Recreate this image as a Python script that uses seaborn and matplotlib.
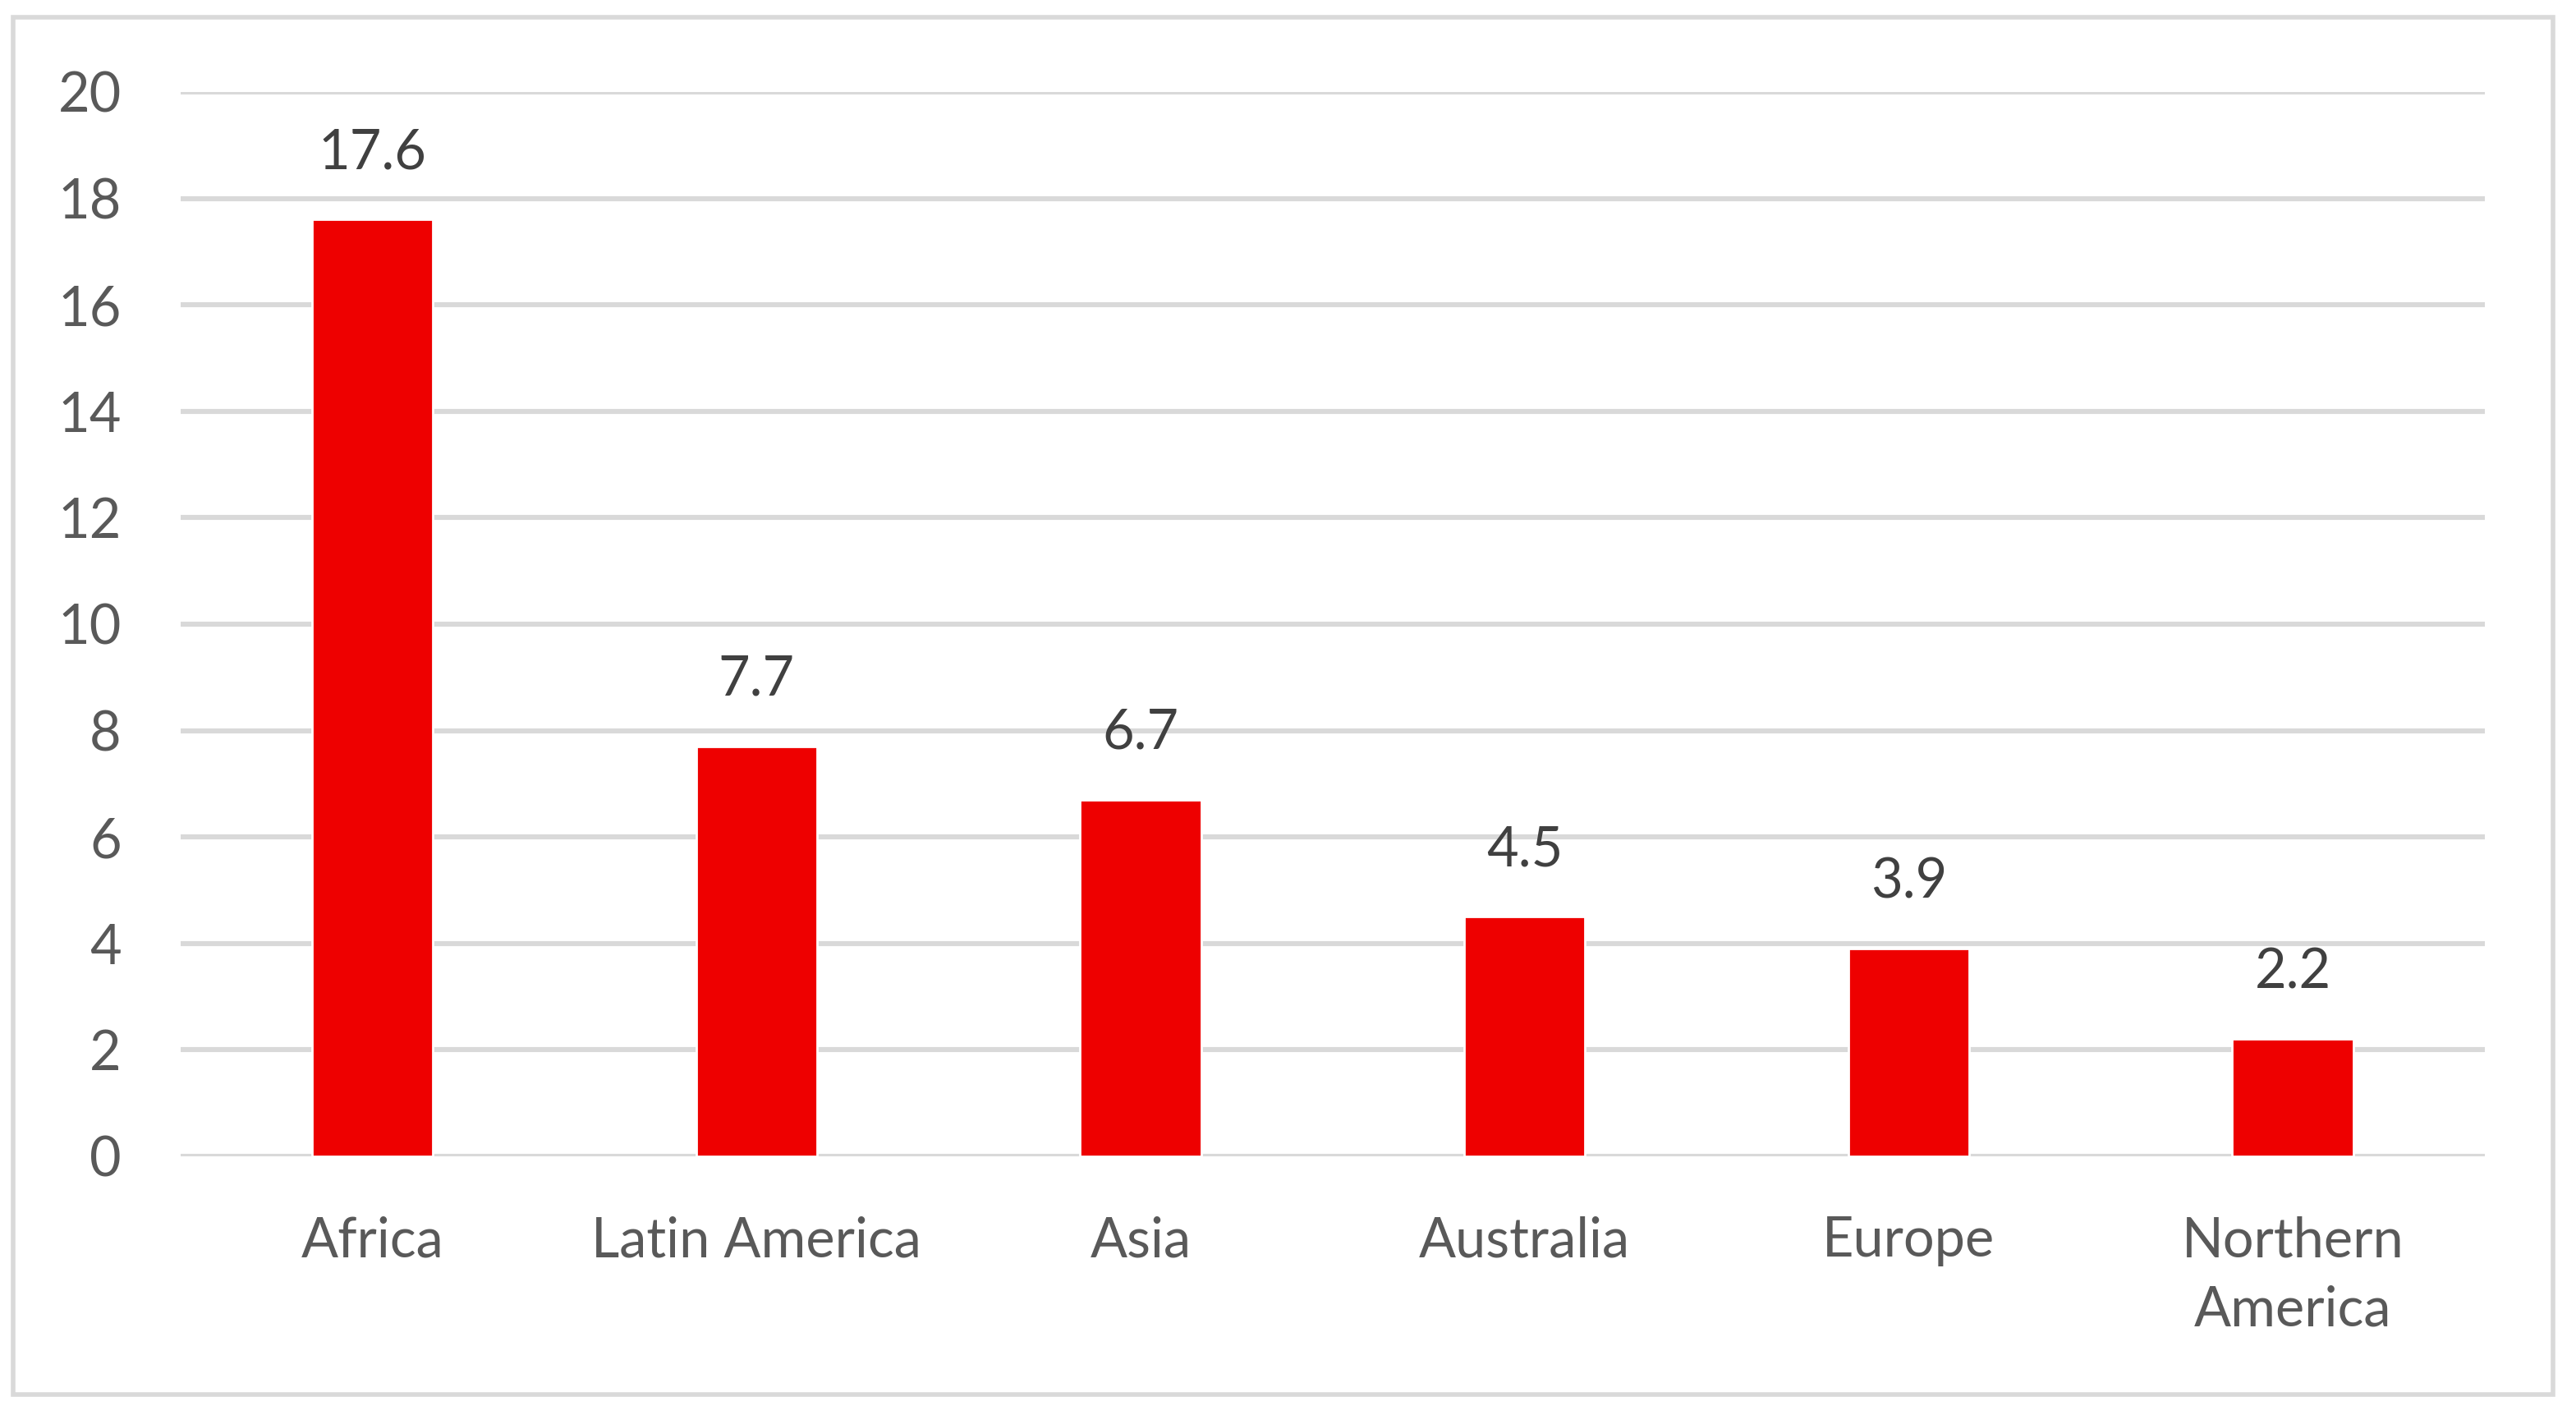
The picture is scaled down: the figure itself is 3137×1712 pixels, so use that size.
import matplotlib
matplotlib.use("Agg")
import matplotlib.pyplot as plt
from matplotlib.patches import Rectangle
import pandas as pd
import seaborn as sns

regions = ["Africa", "Latin America", "Asia", "Australia", "Europe", "Northern\nAmerica"]
values = [17.6, 7.7, 6.7, 4.5, 3.9, 2.2]
y_ticks = [0, 2, 4, 6, 8, 10, 12, 14, 16, 18, 20]

sns.set_theme(style="white")
plt.rcParams["font.family"] = ["Lato", "DejaVu Sans"]

df = pd.DataFrame({"region": regions, "value": values})

fig = plt.figure(figsize=(15.685, 8.56), dpi=200)
ax = fig.add_axes([0.0701, 0.1776, 0.8945, 0.757])

sns.barplot(data=df, x="region", y="value", color="#ee0000", width=0.315,
            saturation=1, ax=ax)

ax.set_ylim(0, 20)
ax.set_yticks(y_ticks)
ax.set_xlim(-0.5, len(regions) - 0.5)
ax.yaxis.grid(True, color="#d9d9d9", linewidth=2.2)
ax.set_axisbelow(True)
for s in ax.spines.values():
    s.set_visible(False)
ax.set_xlabel("")
ax.set_ylabel("")
ax.tick_params(axis="y", length=0, pad=26, labelsize=24, labelcolor="#595959")
ax.tick_params(axis="x", length=0, pad=26, labelsize=24, labelcolor="#595959")
for lbl in ax.get_xticklabels():
    lbl.set_linespacing(1.45)

ax.bar_label(ax.containers[0], fmt="%.1f", padding=18, fontsize=24, color="#404040")

# chart border like the spreadsheet chart area
fig.patches.append(Rectangle((0.005, 0.008), 0.986, 0.98, transform=fig.transFigure,
                             fill=False, edgecolor="#d9d9d9", linewidth=2.0))

fig.savefig("out.png", dpi=200, facecolor="white")
